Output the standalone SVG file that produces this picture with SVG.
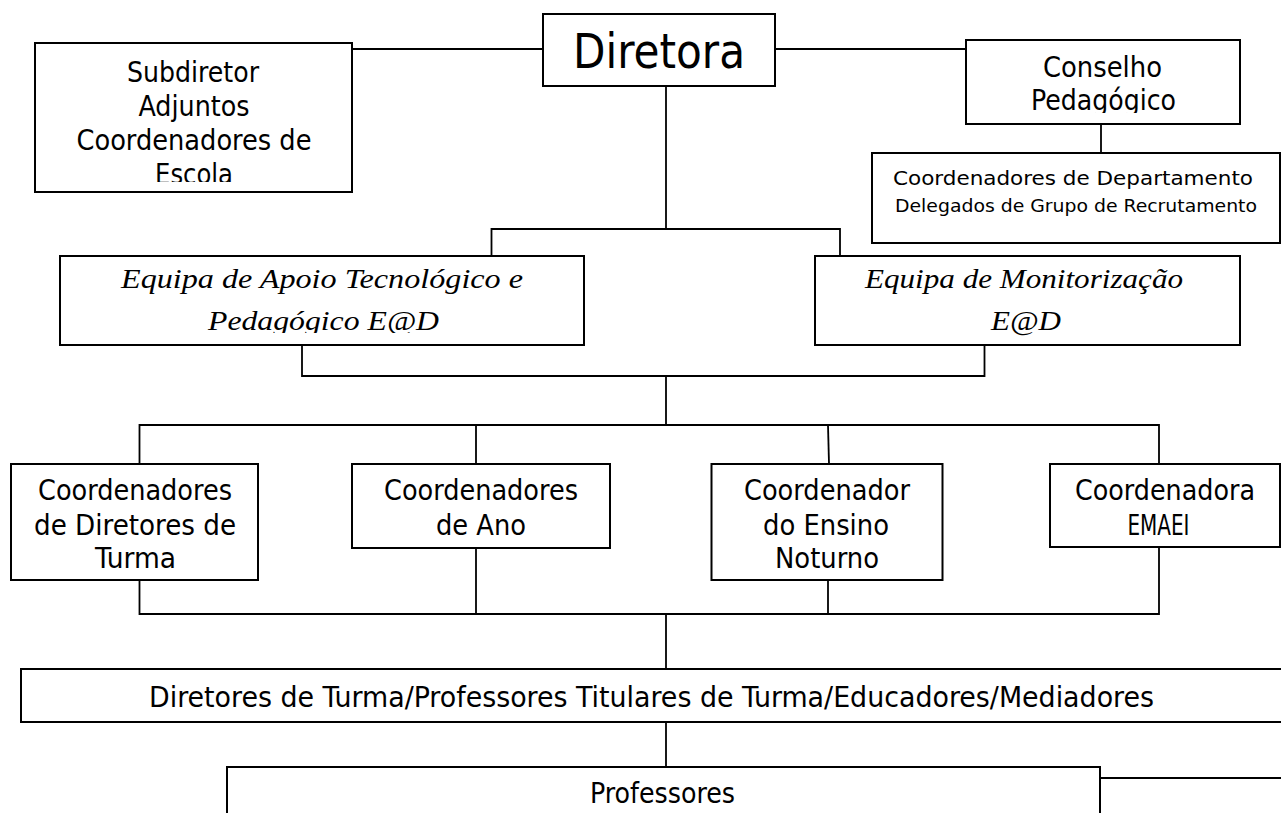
<svg xmlns="http://www.w3.org/2000/svg" width="1281" height="813" viewBox="0 0 1281 813">
<defs>
<style>
.box{fill:#fff;stroke:#000;stroke-width:2}
.ln{fill:none;stroke:#000;stroke-width:1.8}
.t{font-family:"DejaVu Sans Condensed","DejaVu Sans",sans-serif;font-size:28px;fill:#000;text-anchor:middle}
.s{font-size:19px}
.xs{font-size:17.5px}
.big{font-size:48px}
.i{font-family:"Liberation Serif","Times New Roman",serif;font-style:italic;font-size:28px;fill:#000;text-anchor:middle}
</style>
<clipPath id="cSub"><rect x="36" y="44" width="315" height="138"/></clipPath>
<clipPath id="cCon"><rect x="967" y="41" width="272" height="72"/></clipPath>
<clipPath id="cEq"><rect x="61" y="257" width="522" height="76"/></clipPath>
</defs>
<rect width="1281" height="813" fill="#fff"/>
<g id="connectors">
<line class="ln" x1="352" y1="49" x2="543" y2="49"/>
<line class="ln" x1="775" y1="49" x2="966" y2="49"/>
<line class="ln" x1="1101" y1="124" x2="1101" y2="153"/>
<line class="ln" x1="666" y1="86" x2="666" y2="229"/>
<polyline class="ln" points="491.5,256 491.5,229 840,229 840,256"/>
<polyline class="ln" points="302,345 302,376 984.5,376 984.5,345"/>
<line class="ln" x1="666" y1="376" x2="666" y2="425"/>
<polyline class="ln" points="139.5,464 139.5,425 1159,425 1159,464"/>
<line class="ln" x1="476" y1="425" x2="476" y2="464"/>
<line class="ln" x1="828" y1="425" x2="829" y2="464"/>
<polyline class="ln" points="139.5,580 139.5,614 1159,614 1159,547"/>
<line class="ln" x1="476" y1="548" x2="476" y2="614"/>
<line class="ln" x1="828" y1="580" x2="828" y2="614"/>
<line class="ln" x1="666" y1="614" x2="666" y2="669"/>
<line class="ln" x1="666" y1="722" x2="666" y2="767"/>
<line class="ln" x1="1100" y1="778" x2="1281" y2="778"/>
</g>
<g id="subdiretor">
<rect class="box" x="35" y="43" width="317" height="149"/>
<g clip-path="url(#cSub)">
<text class="t" x="193" y="82" textLength="132" lengthAdjust="spacingAndGlyphs">Subdiretor</text>
<text class="t" x="194" y="116" textLength="111" lengthAdjust="spacingAndGlyphs">Adjuntos</text>
<text class="t" x="194" y="150" textLength="235" lengthAdjust="spacingAndGlyphs">Coordenadores de</text>
<text class="t" x="194" y="184" textLength="78" lengthAdjust="spacingAndGlyphs">Escola</text>
</g>
</g>
<g id="diretora">
<rect class="box" x="543" y="14" width="232" height="72"/>
<text class="t big" x="659" y="68" textLength="172" lengthAdjust="spacingAndGlyphs">Diretora</text>
</g>
<g id="conselho">
<rect class="box" x="966" y="40" width="274" height="84"/>
<g clip-path="url(#cCon)">
<text class="t" x="1102.5" y="77" textLength="119" lengthAdjust="spacingAndGlyphs">Conselho</text>
<text class="t" x="1103.5" y="110" textLength="145" lengthAdjust="spacingAndGlyphs">Pedagógico</text>
</g>
</g>
<g id="departamento">
<rect class="box" x="872" y="153" width="408" height="90"/>
<text class="t s" x="1073" y="185" textLength="360" lengthAdjust="spacingAndGlyphs">Coordenadores de Departamento</text>
<text class="t xs" x="1076" y="212" textLength="362" lengthAdjust="spacingAndGlyphs">Delegados de Grupo de Recrutamento</text>
</g>
<g id="apoio">
<rect class="box" x="60" y="256" width="524" height="89"/>
<g clip-path="url(#cEq)">
<text class="i" x="322" y="288" textLength="402" lengthAdjust="spacingAndGlyphs">Equipa de Apoio Tecnológico e</text>
<text class="i" x="323.5" y="330" textLength="231" lengthAdjust="spacingAndGlyphs">Pedagógico E@D</text>
</g>
</g>
<g id="monitorizacao">
<rect class="box" x="815" y="256" width="425" height="89"/>
<text class="i" x="1024" y="288" textLength="318" lengthAdjust="spacingAndGlyphs">Equipa de Monitorização</text>
<text class="i" x="1026" y="330" textLength="70" lengthAdjust="spacingAndGlyphs">E@D</text>
</g>
<g id="coord-dt">
<rect class="box" x="11" y="464" width="247" height="116"/>
<text class="t" x="135" y="500" textLength="194" lengthAdjust="spacingAndGlyphs">Coordenadores</text>
<text class="t" x="135" y="535" textLength="202" lengthAdjust="spacingAndGlyphs">de Diretores de</text>
<text class="t" x="135.5" y="568" textLength="81" lengthAdjust="spacingAndGlyphs">Turma</text>
</g>
<g id="coord-ano">
<rect class="box" x="352" y="464" width="258" height="84"/>
<text class="t" x="481" y="500" textLength="194" lengthAdjust="spacingAndGlyphs">Coordenadores</text>
<text class="t" x="481" y="535" textLength="90" lengthAdjust="spacingAndGlyphs">de Ano</text>
</g>
<g id="coord-noturno">
<rect class="box" x="711.5" y="464" width="231" height="116"/>
<text class="t" x="827" y="500" textLength="166" lengthAdjust="spacingAndGlyphs">Coordenador</text>
<text class="t" x="826" y="535" textLength="126" lengthAdjust="spacingAndGlyphs">do Ensino</text>
<text class="t" x="827" y="568" textLength="104" lengthAdjust="spacingAndGlyphs">Noturno</text>
</g>
<g id="coord-emaei">
<rect class="box" x="1050" y="464" width="230" height="83"/>
<text class="t" x="1165" y="500" textLength="180" lengthAdjust="spacingAndGlyphs">Coordenadora</text>
<text class="t" x="1158.5" y="535" textLength="62" lengthAdjust="spacingAndGlyphs">EMAEI</text>
</g>
<g id="diretores-turma">
<rect class="box" x="21" y="669" width="1270" height="53"/>
<text class="t" x="651.5" y="707" textLength="1005" lengthAdjust="spacingAndGlyphs">Diretores de Turma/Professores Titulares de Turma/Educadores/Mediadores</text>
</g>
<g id="professores">
<rect class="box" x="227" y="767" width="873" height="60"/>
<text class="t" x="662.5" y="803" textLength="145" lengthAdjust="spacingAndGlyphs">Professores</text>
</g>
</svg>
